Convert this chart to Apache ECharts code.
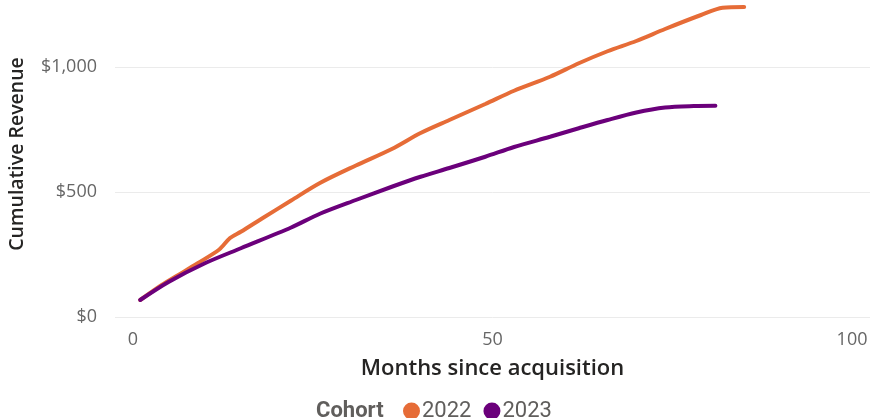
<!DOCTYPE html>
<html>
<head>
<meta charset="utf-8">
<script src="https://cdn.jsdelivr.net/npm/echarts@6/dist/echarts.min.js"></script>
<style>
  html, body { margin: 0; padding: 0; background: #ffffff; }
  #chart { width: 871px; height: 418px; }
</style>
</head>
<body>
<div id="chart"></div>
<script>
// Cumulative revenue per customer cohort, by months since acquisition
const cohorts = ['2022', '2023'];
const cohortColors = ['#E66C37', '#6B007B'];

// [month, cumulative revenue in $]
const revenue2022 = [
  [1, 68], [4, 128], [6, 163], [9, 215], [12, 270], [13.5, 316], [15, 341],
  [18, 395], [22, 466], [26, 536], [31, 606], [36, 672], [40, 736], [44, 788],
  [49, 852], [53, 905], [58, 961], [62, 1015], [66, 1063], [70, 1104],
  [74, 1152], [79, 1208], [82, 1237], [85, 1240]
];
const revenue2023 = [
  [1, 68], [5, 141], [10, 215], [15, 275], [22, 358], [26, 413], [31, 468],
  [36, 521], [40, 561], [44, 596], [49, 641], [53, 680], [58, 721], [62, 755],
  [66, 788], [70, 818], [74, 838], [78, 844], [81, 845]
];

const xTickValues = [0, 50, 100];
const yTickValues = [0, 500, 1000];

const chart = echarts.init(document.getElementById('chart'), null, { renderer: 'canvas' });

const labelFont = '"Open Sans", "Noto Sans", sans-serif';
const titleFont = '"Open Sans", "Noto Sans", sans-serif';
const legendFont = 'Roboto, "Noto Sans", sans-serif';

chart.setOption({
  animation: false,
  backgroundColor: '#ffffff',
  grid: { left: 115, right: 1, top: 4.5, bottom: 101, containLabel: false },
  xAxis: {
    type: 'value',
    min: -2.5,
    max: 102.5,
    axisLine: { show: false },
    axisTick: { show: false, customValues: xTickValues },
    splitLine: { show: false },
    axisLabel: {
      customValues: xTickValues,
      margin: 14,
      color: '#666666',
      fontFamily: labelFont,
      fontSize: 18
    },
    name: 'Months since acquisition',
    nameLocation: 'middle',
    nameGap: 41,
    nameTextStyle: {
      color: '#252423',
      fontFamily: titleFont,
      fontSize: 22,
      fontWeight: 600
    }
  },
  yAxis: {
    type: 'value',
    min: 0,
    max: 1250,
    axisLine: { show: false },
    axisTick: { show: false, customValues: yTickValues },
    splitLine: { show: true, lineStyle: { color: '#ebebeb', width: 1 } },
    axisLabel: {
      customValues: yTickValues,
      margin: 18,
      color: '#666666',
      fontFamily: labelFont,
      fontSize: 18,
      formatter: v => '$' + v.toLocaleString('en-US')
    }
  },
  title: {
    text: 'Cohort',
    left: 316,
    top: 400,
    padding: 0,
    textStyle: {
      color: '#605E5C',
      fontFamily: legendFont,
      fontSize: 22,
      fontWeight: 'bold'
    }
  },
  legend: {
    left: 403,
    top: 400,
    padding: 0,
    icon: 'circle',
    itemWidth: 17,
    itemHeight: 17,
    itemGap: 12,
    textStyle: {
      color: '#605E5C',
      fontFamily: legendFont,
      fontSize: 22,
      padding: [0, 0, 0, -3]
    },
    data: cohorts
  },
  graphic: [{
    type: 'text',
    x: 17,
    y: 154,
    rotation: Math.PI / 2,
    style: {
      text: 'Cumulative Revenue',
      fill: '#252423',
      font: '600 19.5px ' + titleFont,
      align: 'center',
      verticalAlign: 'middle'
    }
  }],
  series: [
    {
      name: cohorts[0],
      type: 'line',
      data: revenue2022,
      smooth: 0.3,
      showSymbol: false,
      lineStyle: { color: cohortColors[0], width: 4, cap: 'round' },
      itemStyle: { color: cohortColors[0] }
    },
    {
      name: cohorts[1],
      type: 'line',
      data: revenue2023,
      smooth: 0.3,
      showSymbol: false,
      lineStyle: { color: cohortColors[1], width: 4, cap: 'round' },
      itemStyle: { color: cohortColors[1] }
    }
  ]
});
</script>
</body>
</html>
